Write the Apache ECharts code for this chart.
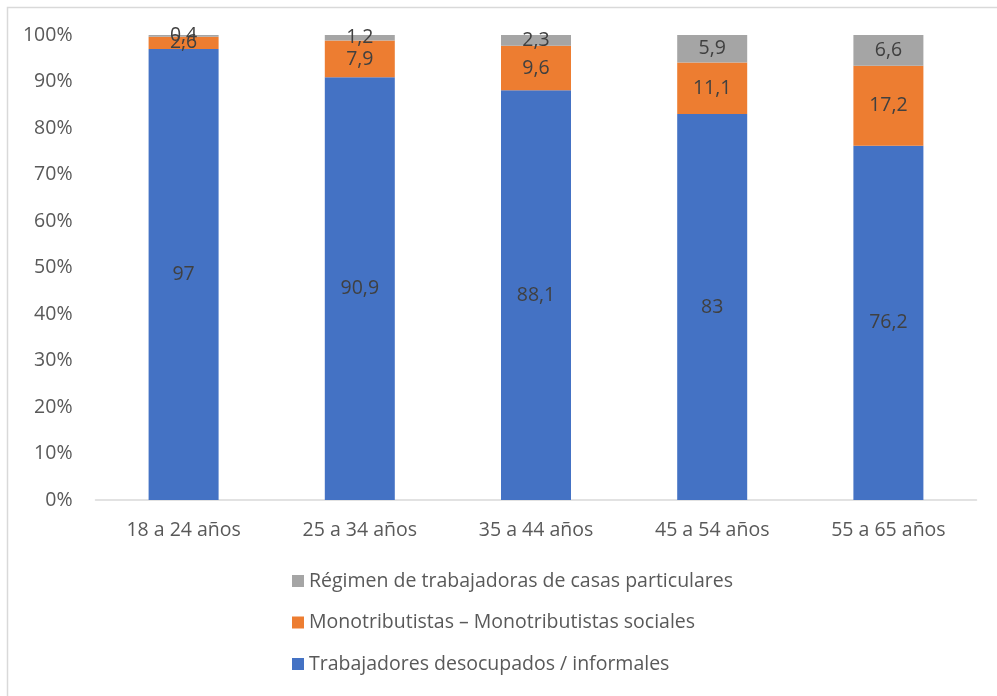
<!DOCTYPE html>
<html>
<head>
<meta charset="utf-8">
<script src="https://cdn.jsdelivr.net/npm/echarts@6/dist/echarts.min.js"></script>
<style>
  html, body { margin: 0; padding: 0; background: #fff; }
  #chart { width: 997px; height: 696px; }
</style>
</head>
<body>
<div id="chart"></div>
<script>
// Age groups
const categories = ['18 a 24 años', '25 a 34 años', '35 a 44 años', '45 a 54 años', '55 a 65 años'];
// Shares per group (percent)
const informales = [97, 90.9, 88.1, 83, 76.2];
const monotributistas = [2.6, 7.9, 9.6, 11.1, 17.2];
const casasParticulares = [0.4, 1.2, 2.3, 5.9, 6.6];
const yTicks = [0, 10, 20, 30, 40, 50, 60, 70, 80, 90, 100];

const FONT = '"Open Sans", Lato, sans-serif';
const FS = 19.5;
const fmt = v => String(v).replace('.', ',');

const labelStyle = {
  show: true,
  position: 'inside',
  color: '#404040',
  fontFamily: FONT,
  fontSize: FS,
  formatter: p => fmt(p.value)
};

const chart = echarts.init(document.getElementById('chart'), null, { renderer: 'canvas' });
chart.setOption({
  backgroundColor: '#fff',
  animation: false,
  graphic: [{
    type: 'rect',
    shape: { x: 7.5, y: 7.5, width: 1100, height: 800 },
    style: { fill: 'none', stroke: '#d9d9d9', lineWidth: 1.5 },
    silent: true
  }],
  grid: { left: 95.5, right: 20.5, top: 35, bottom: 196, containLabel: false },
  xAxis: {
    type: 'category',
    data: categories,
    axisLine: { lineStyle: { color: '#d9d9d9', width: 1.5 } },
    axisTick: { show: false },
    axisLabel: { color: '#595959', fontFamily: FONT, fontSize: FS, margin: 20 }
  },
  yAxis: {
    type: 'value',
    min: yTicks[0],
    max: yTicks[yTicks.length - 1],
    interval: 10,
    axisLine: { show: false },
    axisTick: { show: false },
    splitLine: { show: false },
    axisLabel: { color: '#595959', fontFamily: FONT, fontSize: FS, margin: 23, formatter: v => v + '%' }
  },
  legend: {
    orient: 'vertical',
    left: 287,
    top: 566,
    itemWidth: 12,
    itemHeight: 12,
    itemGap: 21.5,
    icon: 'rect',
    textStyle: { color: '#595959', fontFamily: FONT, fontSize: FS },
    data: [
      'Régimen de trabajadoras de casas particulares',
      'Monotributistas – Monotributistas sociales',
      'Trabajadores desocupados / informales'
    ]
  },
  series: [
    {
      name: 'Trabajadores desocupados / informales',
      type: 'bar', stack: 'total', barWidth: 70,
      itemStyle: { color: '#4472c4' },
      label: labelStyle,
      data: informales
    },
    {
      name: 'Monotributistas – Monotributistas sociales',
      type: 'bar', stack: 'total', barWidth: 70,
      itemStyle: { color: '#ed7d31' },
      label: labelStyle,
      data: monotributistas
    },
    {
      name: 'Régimen de trabajadoras de casas particulares',
      type: 'bar', stack: 'total', barWidth: 70,
      itemStyle: { color: '#a5a5a5' },
      label: labelStyle,
      data: casasParticulares
    }
  ]
});
</script>
</body>
</html>
